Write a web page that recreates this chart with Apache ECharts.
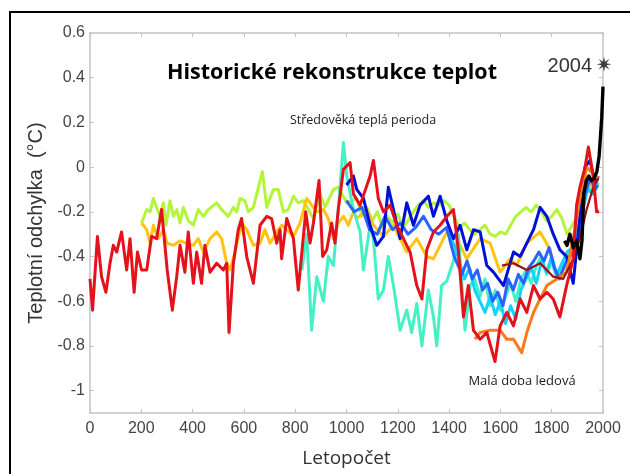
<!DOCTYPE html>
<html>
<head>
<meta charset="utf-8">
<script src="https://cdn.jsdelivr.net/npm/echarts@6/dist/echarts.min.js"></script>
<style>
  html, body { margin: 0; padding: 0; background: #fff; }
  #chart { width: 630px; height: 474px; }
</style>
</head>
<body>
<div id="chart"></div>
<script>
// tick labels
const yTicks = [-1, -0.8, -0.6, -0.4, -0.2, 0, 0.2, 0.4, 0.6];

// reconstructions (year, anomaly)
const redYears = [0,10,29,45,62,78,91,104,123,143,156,172,185,201,221,240,260,279,301,321,338,351,370,383,403,416,435,448,468,494,520,533,542,559,578,591,611,637,663,689,708,728,741,747,767,793,812,841,858,871,893,907,923,942,955,968,988,1014,1027,1053,1092,1105,1124,1144,1170,1196,1222,1248,1274,1294,1313,1339,1365,1391,1417,1436,1456,1475,1495,1521,1547,1579,1599,1625,1651,1677,1703,1729,1755,1781,1806,1832,1858,1884,1897,1910,1930,1943,1962,1975,1985];
const redVals  = [-0.50,-0.64,-0.31,-0.49,-0.56,-0.43,-0.35,-0.38,-0.29,-0.46,-0.32,-0.56,-0.38,-0.46,-0.46,-0.31,-0.32,-0.19,-0.46,-0.64,-0.49,-0.35,-0.47,-0.29,-0.52,-0.38,-0.52,-0.35,-0.47,-0.43,-0.46,-0.43,-0.74,-0.43,-0.28,-0.23,-0.40,-0.52,-0.26,-0.22,-0.23,-0.34,-0.28,-0.41,-0.23,-0.32,-0.55,-0.20,-0.34,-0.25,-0.06,-0.40,-0.37,-0.25,-0.34,-0.19,-0.01,0.02,-0.12,-0.17,-0.04,0.03,-0.14,-0.20,-0.17,-0.26,-0.32,-0.38,-0.53,-0.59,-0.37,-0.29,-0.26,-0.22,-0.19,-0.37,-0.67,-0.53,-0.73,-0.77,-0.74,-0.87,-0.71,-0.65,-0.71,-0.59,-0.65,-0.53,-0.59,-0.56,-0.59,-0.67,-0.53,-0.41,-0.17,-0.09,0.00,0.09,-0.04,-0.20,-0.20];

const limeYears = [201,221,234,247,266,273,286,296,312,325,338,351,364,383,403,422,442,461,494,513,539,559,572,585,604,617,637,672,689,715,734,754,773,793,812,832,871,897,916,949,968,1001,1040,1060,1080,1100,1120,1140,1160,1180,1200,1220,1240,1260,1280,1300,1320,1340,1360,1380,1400,1420,1440,1460,1480,1500,1520,1540,1560,1580,1600,1620,1640,1660,1680,1700,1720,1740,1760,1780,1800,1820,1840,1860,1880,1900,1920,1940,1960,1980];
const limeVals  = [-0.25,-0.19,-0.20,-0.14,-0.20,-0.22,-0.16,-0.26,-0.15,-0.22,-0.19,-0.25,-0.18,-0.24,-0.26,-0.19,-0.22,-0.19,-0.16,-0.19,-0.22,-0.18,-0.20,-0.14,-0.15,-0.20,-0.18,-0.02,-0.18,-0.10,-0.10,-0.20,-0.19,-0.13,-0.16,-0.15,-0.23,-0.12,-0.18,-0.10,-0.09,-0.16,-0.14,-0.22,-0.18,-0.24,-0.20,-0.27,-0.22,-0.25,-0.21,-0.27,-0.24,-0.20,-0.17,-0.15,-0.18,-0.16,-0.17,-0.15,-0.17,-0.22,-0.27,-0.25,-0.28,-0.30,-0.28,-0.26,-0.30,-0.31,-0.29,-0.30,-0.26,-0.22,-0.20,-0.18,-0.20,-0.17,-0.20,-0.24,-0.22,-0.19,-0.23,-0.30,-0.26,-0.22,-0.14,-0.06,-0.10,-0.08];

const goldYears = [201,221,234,247,266,286,301,325,351,377,403,422,442,468,494,513,533,546,565,591,611,637,663,682,702,728,747,767,793,819,845,864,884,910,929,949,968,988,1007,1027,1040,1079,1105,1144,1183,1235,1274,1313,1339,1365,1391,1430,1469,1521,1560,1599,1638,1664,1703,1755,1794,1820,1858,1884,1910,1936,1962,1982];
const goldVals  = [-0.25,-0.28,-0.34,-0.26,-0.32,-0.28,-0.34,-0.35,-0.33,-0.34,-0.35,-0.32,-0.38,-0.32,-0.29,-0.32,-0.43,-0.46,-0.38,-0.25,-0.28,-0.35,-0.34,-0.28,-0.34,-0.29,-0.26,-0.28,-0.31,-0.25,-0.14,-0.17,-0.20,-0.19,-0.23,-0.32,-0.25,-0.22,-0.26,-0.20,-0.23,-0.19,-0.26,-0.31,-0.26,-0.38,-0.32,-0.40,-0.41,-0.35,-0.29,-0.32,-0.41,-0.32,-0.34,-0.47,-0.41,-0.44,-0.34,-0.29,-0.37,-0.50,-0.44,-0.37,-0.20,-0.04,-0.12,-0.07];

const aquaYears = [826,845,864,884,910,929,949,968,988,1001,1027,1053,1066,1092,1105,1124,1144,1163,1183,1209,1235,1254,1274,1294,1319,1339,1352,1371,1391,1417,1436,1462,1482,1500,1520,1540,1560,1580,1600,1620,1640,1660,1680,1700,1720,1740,1760,1780,1800,1820,1840,1860,1880,1900,1920,1940,1960,1980];
const aquaVals  = [-0.46,-0.30,-0.73,-0.49,-0.60,-0.40,-0.44,-0.19,0.11,-0.04,-0.19,-0.29,-0.46,-0.26,-0.32,-0.59,-0.55,-0.40,-0.53,-0.73,-0.64,-0.74,-0.61,-0.80,-0.55,-0.67,-0.80,-0.53,-0.51,-0.42,-0.30,-0.73,-0.53,-0.50,-0.58,-0.50,-0.62,-0.55,-0.64,-0.58,-0.52,-0.60,-0.50,-0.46,-0.52,-0.44,-0.40,-0.48,-0.42,-0.50,-0.45,-0.40,-0.35,-0.28,-0.18,-0.08,-0.12,-0.07];

const cyanYears = [1400,1420,1440,1460,1480,1500,1520,1540,1560,1580,1600,1620,1640,1660,1680,1700,1720,1740,1760,1780,1800,1820,1840,1860,1880,1900,1920,1940,1960,1980];
const cyanVals  = [-0.30,-0.35,-0.42,-0.50,-0.45,-0.55,-0.60,-0.65,-0.58,-0.66,-0.60,-0.70,-0.62,-0.68,-0.55,-0.50,-0.45,-0.52,-0.42,-0.47,-0.40,-0.48,-0.43,-0.38,-0.36,-0.30,-0.20,-0.10,-0.12,-0.05];

const royalYears = [1000,1030,1060,1090,1120,1150,1180,1210,1240,1270,1300,1330,1360,1390,1420,1450,1470,1490,1510,1530,1550,1570,1590,1610,1630,1650,1670,1690,1710,1730,1750,1770,1790,1810,1830,1850,1870,1890,1910,1930,1950,1970,1980];
const royalVals  = [-0.15,-0.20,-0.18,-0.28,-0.30,-0.22,-0.28,-0.25,-0.30,-0.27,-0.22,-0.28,-0.30,-0.27,-0.40,-0.48,-0.42,-0.50,-0.46,-0.55,-0.52,-0.60,-0.56,-0.62,-0.50,-0.55,-0.48,-0.52,-0.45,-0.42,-0.38,-0.42,-0.36,-0.45,-0.50,-0.44,-0.40,-0.35,-0.30,-0.12,-0.05,-0.10,-0.08];

const blueYears = [1000,1027,1040,1066,1092,1118,1144,1163,1183,1209,1235,1261,1287,1319,1339,1365,1391,1417,1443,1469,1495,1521,1547,1573,1612,1651,1677,1703,1729,1755,1781,1806,1832,1858,1884,1910,1930,1949,1969,1982];
const blueVals  = [-0.08,-0.04,-0.10,-0.14,-0.26,-0.35,-0.31,-0.09,-0.19,-0.32,-0.16,-0.26,-0.17,-0.13,-0.22,-0.13,-0.24,-0.32,-0.26,-0.37,-0.28,-0.29,-0.44,-0.47,-0.53,-0.38,-0.40,-0.34,-0.28,-0.18,-0.22,-0.30,-0.37,-0.40,-0.52,-0.22,0.00,0.03,-0.07,-0.04];

const orangeYears = [1501,1521,1560,1599,1625,1651,1683,1703,1729,1755,1781,1820,1858,1884,1910,1936,1962,1982];
const orangeVals  = [-0.77,-0.74,-0.73,-0.73,-0.77,-0.77,-0.83,-0.74,-0.65,-0.59,-0.53,-0.50,-0.47,-0.32,-0.14,0.00,-0.03,-0.05];

const boreYears = [1606,1651,1703,1755,1806,1845,1884,1910,1936,1962,1982];
const boreVals  = [-0.44,-0.43,-0.46,-0.43,-0.49,-0.50,-0.41,-0.32,-0.19,-0.09,-0.05];

const instYears = [1850,1860,1871,1884,1897,1910,1918,1925,1935,1945,1955,1965,1976,1985,1995,2000];
const instVals  = [-0.33,-0.35,-0.30,-0.36,-0.33,-0.41,-0.33,-0.12,-0.06,-0.04,-0.06,-0.05,-0.02,0.05,0.22,0.36];

const star2004 = [2004, 0.46];

function pairs(xs, ys) {
  return xs.map((x, i) => [x, ys[i]]);
}

// 8-armed asterisk for the 2004 marker
function asteriskPath() {
  let d = '';
  for (let i = 0; i < 16; i++) {
    const a = Math.PI * i / 8;
    const r = i % 2 === 0 ? 10 : 3.6;
    d += (i === 0 ? 'M' : 'L') + (r * Math.cos(a)).toFixed(2) + ',' + (r * Math.sin(a)).toFixed(2);
  }
  return 'path://' + d + 'Z';
}

function line(name, data, color, width) {
  return {
    name: name,
    type: 'line',
    data: data,
    showSymbol: false,
    symbol: 'none',
    smooth: false,
    lineStyle: { color: color, width: width || 3, join: 'round' },
    z: 2
  };
}

const axisGray = '#c4c4c4';
const labelFont = 'Liberation Sans, Arial, sans-serif';
const frameAxis = {
  show: true, onZero: false, lineStyle: { color: axisGray, width: 1.5 }
};

const chart = echarts.init(document.getElementById('chart'));
chart.setOption({
  backgroundColor: '#fff',
  animation: false,
  grid: { left: 90, right: 27, top: 33, bottom: 61 },
  xAxis: [
    {
      type: 'value', min: 0, max: 2000, interval: 200, position: 'bottom',
      axisLine: frameAxis,
      axisTick: { show: true, inside: true, length: 4, lineStyle: { color: axisGray } },
      axisLabel: { color: '#444', fontSize: 16, fontFamily: labelFont, margin: 8, formatter: v => String(v) },
      splitLine: { show: false },
      name: 'Letopočet', nameLocation: 'middle', nameGap: 36,
      nameTextStyle: { color: '#333', fontSize: 19, fontFamily: 'Open Sans' }
    },
    {
      type: 'value', min: 0, max: 2000, interval: 200, position: 'top',
      axisLine: frameAxis,
      axisTick: { show: true, inside: true, length: 4, lineStyle: { color: axisGray } },
      axisLabel: { show: false },
      splitLine: { show: false }
    }
  ],
  yAxis: [
    {
      type: 'value', min: -1.1, max: 0.6, position: 'left',
      axisLine: frameAxis,
      axisTick: { show: true, inside: true, length: 4, customValues: yTicks, lineStyle: { color: axisGray } },
      axisLabel: {
        color: '#444', fontSize: 16, fontFamily: labelFont, margin: 5,
        customValues: yTicks,
        formatter: v => String(Math.round(v * 10) / 10)
      },
      splitLine: { show: false },
      name: 'Teplotní odchylka  (°C)', nameLocation: 'middle', nameGap: 27, nameRotate: 90,
      nameTextStyle: { color: '#333', fontSize: 20, fontFamily: labelFont }
    },
    {
      type: 'value', min: -1.1, max: 0.6, position: 'right',
      axisLine: frameAxis,
      axisTick: { show: true, inside: true, length: 4, customValues: yTicks, lineStyle: { color: axisGray } },
      axisLabel: { show: false },
      splitLine: { show: false }
    }
  ],
  series: [
    line('lime', pairs(limeYears, limeVals), '#b3f53a'),
    line('gold', pairs(goldYears, goldVals), '#ffc412'),
    line('aqua', pairs(aquaYears, aquaVals), '#45f0c4'),
    line('cyan', pairs(cyanYears, cyanVals), '#14d2ff'),
    line('royal', pairs(royalYears, royalVals), '#2a64ff'),
    line('blue', pairs(blueYears, blueVals), '#0010d8'),
    line('orange', pairs(orangeYears, orangeVals), '#ff7a1e'),
    line('bore', pairs(boreYears, boreVals), '#9a1010', 2.2),
    line('red', pairs(redYears, redVals), '#e3121b', 3),
    line('inst', pairs(instYears, instVals), '#000000', 3.4),
    {
      name: '2004', type: 'scatter', data: [star2004], clip: false,
      symbol: asteriskPath(), symbolSize: 15,
      itemStyle: { color: '#111' }, z: 5
    }
  ],
  graphic: [
    {
      type: 'rect', shape: { x: 10, y: 12, width: 680, height: 520 },
      style: { fill: 'none', stroke: '#000', lineWidth: 2 }, silent: true
    },
    {
      type: 'text', x: 332, y: 73,
      style: { text: 'Historické rekonstrukce teplot', fontFamily: 'Open Sans', fontWeight: 'bold', fontSize: 21.5, fill: '#000', align: 'center', verticalAlign: 'middle' }
    },
    {
      type: 'text', x: 363, y: 120,
      style: { text: 'Středověká teplá perioda', fontFamily: 'Open Sans', fontSize: 12.5, fill: '#222', align: 'center', verticalAlign: 'middle' }
    },
    {
      type: 'text', x: 522, y: 381,
      style: { text: 'Malá doba ledová', fontFamily: 'Open Sans', fontSize: 13, fill: '#222', align: 'center', verticalAlign: 'middle' }
    },
    {
      type: 'text', x: 592, y: 66,
      style: { text: '2004', fontFamily: labelFont, fontSize: 20, fill: '#333', align: 'right', verticalAlign: 'middle' }
    }
  ]
});
</script>
</body>
</html>
